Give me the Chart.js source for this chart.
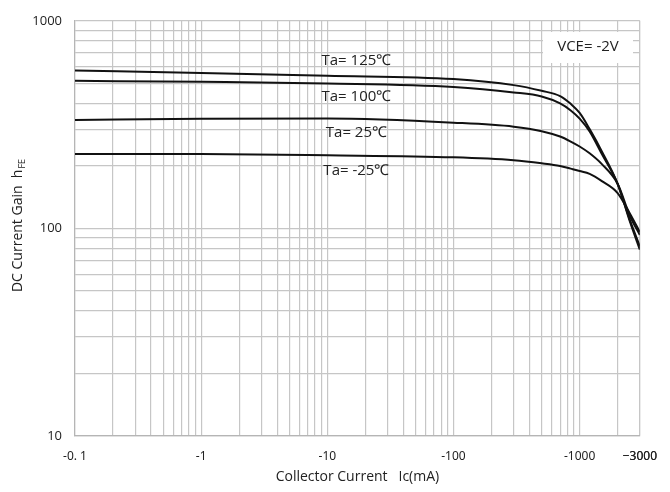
<!DOCTYPE html>
<html>
<head>
<meta charset="utf-8">
<script src="https://cdn.jsdelivr.net/npm/chart.js@4/dist/chart.umd.min.js"></script>
<style>
  html, body { margin: 0; padding: 0; background: #fff; }
  #wrap { width: 670px; height: 492px; }
</style>
</head>
<body>
<div id="wrap"><canvas id="hfeChart" width="670" height="492"></canvas></div>
<script>
// collector current (mA, shown as negative on the axis)
const currents = [0.1, 1, 10, 100, 300, 500, 700, 850, 1000, 1200, 1500, 2000, 2500, 3000];
const gain125 = [576, 561, 544, 524, 490, 460, 434, 398, 360, 301, 235, 164, 108, 79];
const gain100 = [514, 508, 499, 480, 452, 432, 400, 370, 338, 293, 228, 164, 110, 82];
const gain25  = [333, 337, 338, 323, 309, 294, 277, 262, 248, 230, 204, 164, 115, 93];
const gainM25 = [228, 228, 225, 220, 213, 206, 200, 194, 189, 183, 169, 148, 118, 96];

const seriesNames = ["Ta= 125℃", "Ta= 100℃", "Ta= 25℃", "Ta= -25℃"];
const labelGain = [645, 430, 289, 189];   // where the curve labels sit (hFE)
const labelCurrent = 17;

const xMajor = [0.1, 1, 10, 100, 1000, 3000];
const xMajorLabels = ["-0. 1", "-1", "-10", "-100", "-1000", "−3000"];
const yMajor = [10, 100, 1000];
const yMajorLabels = ["10", "100", "1000"];

function logGrid(min, max) {
  const out = [];
  for (let d = min; d < max; d *= 10) {
    for (let m = 1; m < 10; m++) {
      const v = +(d * m).toPrecision(3);
      if (v <= max) out.push(v);
    }
  }
  out.push(max);
  return out;
}
const xGrid = logGrid(0.1, 3000);
const yGrid = logGrid(10, 1000);

const pts = (arr) => currents.map((c, i) => ({ x: c, y: arr[i] }));

const gridColor = "#c6c6c6";

const overlay = {
  id: "overlay",
  afterDraw(chart) {
    const ctx = chart.ctx;
    const xs = chart.scales.x, ys = chart.scales.y;
    ctx.save();
    // curve labels
    ctx.fillStyle = "#222";
    ctx.font = "15px 'Open Sans', sans-serif";
    ctx.textAlign = "center";
    ctx.textBaseline = "middle";
    seriesNames.forEach((name, i) => {
      ctx.fillText(name, xs.getPixelForValue(labelCurrent), ys.getPixelForValue(labelGain[i]));
    });
    // condition box
    ctx.fillStyle = "#fff";
    ctx.fillRect(543, 32, 90, 31);
    ctx.fillStyle = "#222";
    ctx.font = "15px 'Open Sans', sans-serif";
    ctx.fillText("VCE= -2V", 588, 47);
    // y title with subscript
    ctx.translate(18, 226);
    ctx.rotate(-Math.PI / 2);
    const main = "DC Current Gain  h";
    ctx.font = "14px 'Open Sans', sans-serif";
    const w1 = ctx.measureText(main).width;
    ctx.font = "9px 'Open Sans', sans-serif";
    const w2 = ctx.measureText("FE").width;
    const start = -(w1 + w2) / 2;
    ctx.textAlign = "left";
    ctx.font = "14px 'Open Sans', sans-serif";
    ctx.fillText(main, start, 0);
    ctx.font = "9px 'Open Sans', sans-serif";
    ctx.fillText("FE", start + w1 + 1, 4);
    ctx.restore();
  }
};

new Chart(document.getElementById("hfeChart"), {
  type: "scatter",
  data: {
    datasets: [gain125, gain100, gain25, gainM25].map((g, i) => ({
      label: seriesNames[i],
      data: pts(g),
      showLine: true,
      borderColor: "#111",
      borderWidth: 2,
      pointRadius: 0,
      cubicInterpolationMode: "monotone",
      fill: false
    }))
  },
  options: {
    responsive: false,
    animation: false,
    layout: { padding: { top: 15, right: 25, left: 0, bottom: 0 } },
    plugins: { legend: { display: false }, tooltip: { enabled: false } },
    scales: {
      x: {
        type: "logarithmic",
        min: 0.1,
        max: 3000,
        afterBuildTicks: (s) => { s.ticks = xGrid.map(v => ({ value: v })); },
        afterFit: (s) => { s.height = 56; },
        grid: { color: gridColor, lineWidth: 1.2, drawTicks: false },
        border: { color: "#b5b5b5", width: 1.2 },
        ticks: {
          autoSkip: false,
          maxRotation: 0,
          padding: 13,
          color: "#222",
          font: { family: "'Noto Sans', sans-serif", size: 12 },
          callback: (v) => {
            const k = xMajor.findIndex(m => Math.abs(m - v) < 1e-9);
            return k >= 0 ? xMajorLabels[k] : "";
          }
        },
        title: {
          display: true,
          text: "Collector Current   Ic(mA)",
          color: "#222",
          font: { family: "'Open Sans', sans-serif", size: 14 },
          padding: { top: 2, bottom: 7 }
        }
      },
      y: {
        type: "logarithmic",
        min: 10,
        max: 1000,
        afterBuildTicks: (s) => { s.ticks = yGrid.map(v => ({ value: v })); },
        afterFit: (s) => { s.width = 75; },
        grid: { color: gridColor, lineWidth: 1.2, drawTicks: false },
        border: { color: "#b5b5b5", width: 1.2 },
        ticks: {
          autoSkip: false,
          padding: 13,
          color: "#222",
          font: { family: "'Open Sans', sans-serif", size: 13 },
          callback: (v) => {
            const k = yMajor.indexOf(v);
            return k >= 0 ? yMajorLabels[k] : "";
          }
        }
      }
    }
  },
  plugins: [overlay]
});
</script>
</body>
</html>
